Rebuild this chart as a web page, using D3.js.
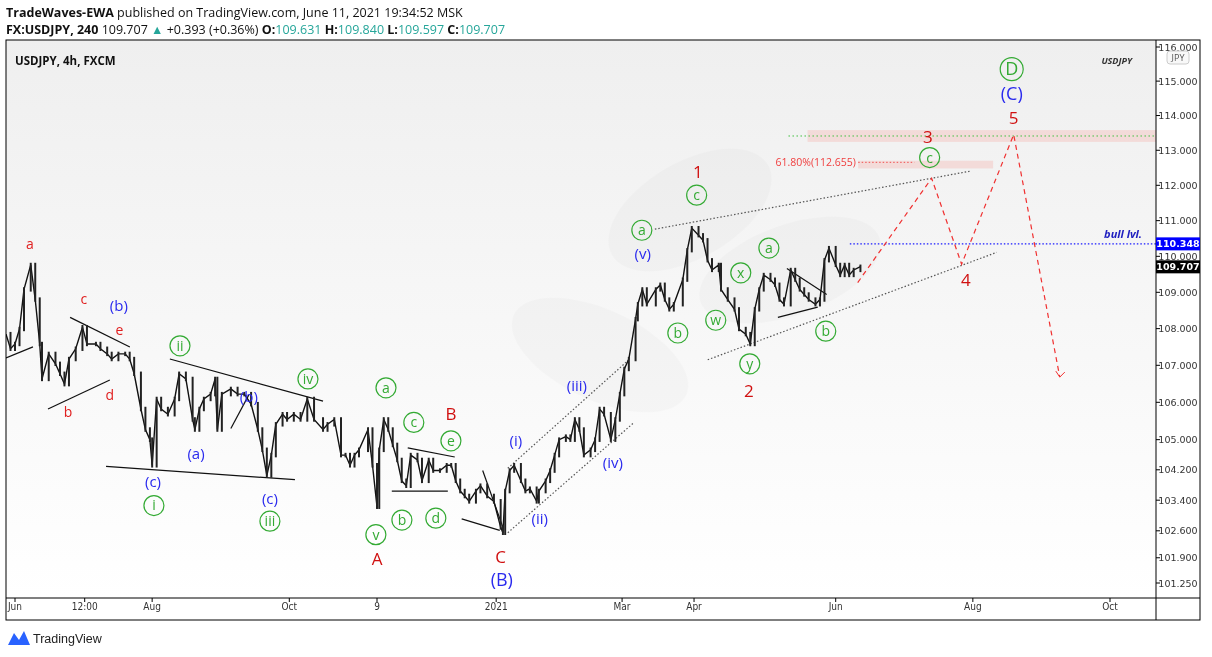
<!DOCTYPE html>
<html>
<head>
<meta charset="utf-8">
<script src="https://cdn.jsdelivr.net/npm/d3@7"></script>
<style>
body { margin: 0; background: #fff; font-family: "Open Sans", sans-serif; }
</style>
</head>
<body>
<svg id="chart" width="1212" height="657"></svg>
<script>
// price path, day offsets from 2020-06-01 and closes
var days = [-4,-2,0,2,4,7,9,11,12,15,18,20,22,24,27,30,32,36,38,41,43,46,49,51,53,56,58,60,61,63,65,68,71,73,76,79,80,82,84,87,89,90,92,96,99,102,105,108,110,112,114,116,119,121,124,127,130,133,137,139,142,145,147,149,151,153,157,159,161,162,164,166,168,170,172,174,176,179,181,184,186,189,192,194,196,198,200,202,205,207,210,213,216,217,218,220,222,225,227,229,232,233,236,238,240,242,245,247,249,251,253,256,258,260,262,265,267,269,271,273,276,277,279,281,285,287,289,291,293,297,299,301,304,306,308,310,313,314,317,320,322,325,327,329,331,333,336,338,340,342,345,347,349,351,353,356,358,360,362,365,367,369,371,373,376];
var closes = [107.85,107.45,107.58,107.99,109.08,109.76,108.80,107.58,106.63,107.31,107.04,106.77,106.49,107.17,107.45,108.04,107.58,107.58,107.45,107.31,107.17,107.31,107.31,107.17,106.77,105.82,105.27,105.00,104.32,106.09,105.82,105.68,106.09,106.77,106.63,105.54,105.27,105.82,106.09,106.22,106.63,105.27,106.22,106.36,106.22,106.22,105.95,105.27,104.73,104.05,104.59,105.41,105.68,105.54,105.68,105.54,106.09,105.54,105.27,105.41,105.54,104.59,104.59,104.32,104.59,104.73,105.27,104.32,103.23,104.73,105.54,105.27,104.86,104.46,103.91,103.78,104.59,104.46,103.91,104.46,104.18,104.18,104.32,104.32,103.91,103.64,103.51,103.37,103.64,103.78,103.51,103.37,102.69,102.55,103.64,104.18,104.32,103.91,103.64,103.70,103.37,103.64,103.91,104.18,104.59,105.00,105.08,105.00,105.54,105.27,104.59,104.73,105.00,105.82,105.68,105.00,105.54,106.22,106.90,107.17,108.26,108.67,109.08,108.67,109.08,109.21,108.80,108.53,108.67,109.35,110.17,110.79,110.59,110.45,109.89,109.62,109.76,109.08,108.80,108.53,107.99,107.85,107.58,108.53,109.08,109.48,109.35,109.21,108.80,108.67,109.62,109.35,109.08,108.94,108.80,108.67,108.80,109.89,110.23,109.76,109.48,109.76,109.48,109.62,109.71];

var priceTicks = [116, 115, 114, 113, 112, 111, 110, 109, 108, 107, 106, 105, 104.2, 103.4, 102.6, 101.9, 101.25];
var timeTicks = [["2020-06-01","Jun"],["2020-07-02","12:00"],["2020-08-01","Aug"],["2020-10-01","Oct"],["2020-11-09","9"],["2021-01-01","2021"],["2021-02-26","Mar"],["2021-03-30","Apr"],["2021-06-01","Jun"],["2021-08-01","Aug"],["2021-10-01","Oct"]];

// wave labels: [day, price, text]
var redLabels = [[6.7,110.34,"a"],[30.7,108.80,"c"],[46.5,107.95,"e"],[23.6,105.73,"b"],[42.2,106.20,"d"]];
var redBig = [[193.9,105.68,"B"],[161,101.88,"A"],[216,101.93,"C"],[303.7,112.37,"1"],[326.4,106.30,"2"],[406,113.38,"3"],[422.9,109.35,"4"],[444.2,113.92,"5"]];
var blueLabels = [[46.2,108.62,"(b)"],[80.5,104.62,"(a)"],[61.4,103.89,"(c)"],[113.4,103.45,"(c)"],[104,106.14,"(b)"],[222.8,104.97,"(i)"],[233.4,102.91,"(ii)"],[249.9,106.44,"(iii)"],[265.9,104.40,"(iv)"],[279.2,110.06,"(v)"]];
var blueBig = [[216.5,101.33,"(B)"],[443.3,114.62,"(C)"]];
var greenCircles = [[61.8,103.26,"i"],[113.4,102.85,"iii"],[73.4,107.53,"ii"],[130.3,106.63,"iv"],[165,106.39,"a"],[177.4,105.46,"c"],[193.9,104.97,"e"],[160.5,102.50,"v"],[172.1,102.88,"b"],[187.2,102.93,"d"],[278.8,110.73,"a"],[303.2,111.72,"c"],[294.8,107.88,"b"],[311.7,108.23,"w"],[322.8,109.54,"x"],[335.3,110.23,"a"],[326.8,107.04,"y"],[360.6,107.93,"b"],[406.8,112.79,"c"]];
var greenBig = [[443.3,115.35,"D"]];

// projected path
var projDays = [374.8, 407.7, 421, 444.2, 464.7];
var projPrices = [109.27, 112.2, 109.78, 113.45, 106.68];

// trend lines [d1,p1,d2,p2]
var dottedLines = [[284.6,110.76,424.6,112.40],[308.1,107.15,436.6,110.11],[219.2,102.55,274.8,105.43],[219.2,104.24,273.4,107.17]];
var solidLines = [[14.7,105.82,42.2,106.6],[24.5,108.31,51.1,107.5],[40.5,104.29,124.5,103.94],[68.9,107.17,137,106.03],[167.6,103.64,192.5,103.64],[174.7,104.78,195.6,104.54],[198.7,102.91,215.6,102.61],[208,104.18,217,102.69],[343.3,109.66,361,108.94],[339.3,108.31,357,108.59],[-4,107.2,8,107.5],[96,105.3,104,106.2]];

var bullLevel = 110.348, lastPrice = 109.707;
var fibLevel = 112.655, fibBox = [375, 435, 112.48, 112.70];
var targetBox = [352.5, 113.24, 113.58], targetLine = 113.41;

var svg = d3.select("#chart");
var L = 6, R = 1156, T = 40, B = 598;
var t0 = new Date(2020, 5, 1);
var x = d3.scaleTime().domain([t0, new Date(2021, 9, 1)]).range([15, 1110]);
var y = d3.scaleLog().domain([101.25, 116]).range([583, 47]);
var X = function (d) { return x(d3.timeHour.offset(t0, d * 24)); };

// background gradient
var grad = svg.append("defs").append("linearGradient").attr("id", "bg").attr("x1", 0).attr("y1", 0).attr("x2", 0).attr("y2", 1);
grad.append("stop").attr("offset", "0%").attr("stop-color", "#efefef");
grad.append("stop").attr("offset", "100%").attr("stop-color", "#ffffff");
svg.append("rect").attr("x", L).attr("y", T).attr("width", R - L).attr("height", B - T).attr("fill", "url(#bg)");

var clip = svg.append("clipPath").attr("id", "clip").append("rect").attr("x", L).attr("y", T).attr("width", R - L).attr("height", B - T);
var g = svg.append("g").attr("clip-path", "url(#clip)");

// watermark leaves
var wm = g.append("g").attr("fill", "#000").attr("opacity", 0.02);
wm.append("ellipse").attr("cx", 690).attr("cy", 210).attr("rx", 90).attr("ry", 48).attr("transform", "rotate(-30,690,210)");
wm.append("ellipse").attr("cx", 600).attr("cy", 355).attr("rx", 95).attr("ry", 45).attr("transform", "rotate(25,600,355)");
wm.append("ellipse").attr("cx", 790).attr("cy", 270).attr("rx", 95).attr("ry", 45).attr("transform", "rotate(-20,790,270)");

// target zones
g.append("rect").attr("x", X(targetBox[0])).attr("y", y(targetBox[2])).attr("width", R - X(targetBox[0])).attr("height", y(targetBox[1]) - y(targetBox[2])).attr("fill", "#f2d4d2").attr("opacity", 0.8);
g.append("line").attr("x1", X(344)).attr("x2", R).attr("y1", y(targetLine)).attr("y2", y(targetLine)).attr("stroke", "#3fbf3f").attr("stroke-dasharray", "1.5,2.5");
g.append("rect").attr("x", X(fibBox[0])).attr("y", y(fibBox[3])).attr("width", X(fibBox[1]) - X(fibBox[0])).attr("height", y(fibBox[2]) - y(fibBox[3])).attr("fill", "#f2d4d2").attr("opacity", 0.8);
g.append("line").attr("x1", X(375)).attr("x2", X(400)).attr("y1", y(fibLevel)).attr("y2", y(fibLevel)).attr("stroke", "#f05050").attr("stroke-dasharray", "1.5,2");
g.append("text").attr("x", X(374)).attr("y", y(fibLevel) + 4).attr("text-anchor", "end").attr("fill", "#f04040").attr("font-size", 10.5).text("61.80%(112.655)");

// trend lines
dottedLines.forEach(function (l) {
    g.append("line").attr("x1", X(l[0])).attr("y1", y(l[1])).attr("x2", X(l[2])).attr("y2", y(l[3]))
        .attr("stroke", "#555").attr("stroke-width", 1.2).attr("stroke-dasharray", "1.5,2");
});
solidLines.forEach(function (l) {
    g.append("line").attr("x1", X(l[0])).attr("y1", y(l[1])).attr("x2", X(l[2])).attr("y2", y(l[3]))
        .attr("stroke", "#111").attr("stroke-width", 1.2);
});

// bull level
g.append("line").attr("x1", X(371.3)).attr("x2", R).attr("y1", y(bullLevel)).attr("y2", y(bullLevel)).attr("stroke", "#1a1aff").attr("stroke-dasharray", "1.5,2").attr("stroke-width", 1.3);
g.append("text").attr("x", 1142).attr("y", y(bullLevel) - 6).attr("text-anchor", "end").attr("fill", "#2020c0").attr("font-size", 11).attr("font-weight", "bold").attr("font-style", "italic").text("bull lvl.");

// price path as bars
var pts = days.map(function (d, i) { return [X(d), y(closes[i])]; });
g.append("path").attr("d", d3.line()(pts)).attr("fill", "none").attr("stroke", "#111").attr("stroke-width", 1.4);
g.selectAll(".bar").data(days.slice(1)).enter().append("line")
    .attr("x1", function (d) { return X(d); }).attr("x2", function (d) { return X(d); })
    .attr("y1", function (d, i) { return y(Math.max(closes[i], closes[i + 1]) + 0.06); })
    .attr("y2", function (d, i) { return y(Math.min(closes[i], closes[i + 1]) - 0.06); })
    .attr("stroke", "#222").attr("stroke-width", 2);

// projection
g.append("path").attr("d", d3.line()(projDays.map(function (d, i) { return [X(d), y(projPrices[i])]; })))
    .attr("fill", "none").attr("stroke", "#f03030").attr("stroke-width", 1.2).attr("stroke-dasharray", "5,4");
var ex = X(projDays[4]), ey = y(projPrices[4]);
g.append("path").attr("d", "M" + (ex - 4) + "," + (ey - 6) + "L" + ex + "," + ey + "L" + (ex + 5) + "," + (ey - 5)).attr("fill", "none").attr("stroke", "#f03030");

// labels
function labels(arr, color, size, weight) {
    arr.forEach(function (a) {
        g.append("text").attr("x", X(a[0])).attr("y", y(a[1])).attr("dy", "0.35em").attr("text-anchor", "middle")
            .attr("fill", color).attr("font-size", size).attr("font-weight", weight).text(a[2]);
    });
}
function circles(arr, r, size) {
    arr.forEach(function (a) {
        g.append("circle").attr("cx", X(a[0])).attr("cy", y(a[1])).attr("r", r).attr("fill", "none").attr("stroke", "#33aa33").attr("stroke-width", 1.2);
        g.append("text").attr("x", X(a[0])).attr("y", y(a[1])).attr("dy", "0.35em").attr("text-anchor", "middle")
            .attr("fill", "#33aa33").attr("font-size", size).text(a[2]);
    });
}
labels(redLabels, "#e02020", 14, "normal");
labels(redBig, "#d01010", 17, "normal");
labels(blueLabels, "#2a2aee", 15, "normal");
labels(blueBig, "#2a2aee", 18, "normal");
circles(greenCircles, 10, 14);
circles(greenBig, 11.5, 18);

// frame
svg.append("rect").attr("x", L).attr("y", T).attr("width", 1194).attr("height", 580).attr("fill", "none").attr("stroke", "#000");
svg.append("line").attr("x1", R).attr("x2", R).attr("y1", T).attr("y2", 620).attr("stroke", "#000");
svg.append("line").attr("x1", L).attr("x2", 1200).attr("y1", B).attr("y2", B).attr("stroke", "#000");

// price axis
priceTicks.forEach(function (p) {
    svg.append("line").attr("x1", R).attr("x2", R + 4).attr("y1", y(p)).attr("y2", y(p)).attr("stroke", "#000");
    svg.append("text").attr("x", R + 22).attr("y", y(p) + 3.5).attr("text-anchor", "middle").attr("font-size", 9.5)
        .attr("font-family", "'DejaVu Sans', sans-serif").attr("fill", "#333").text(p.toFixed(3));
});
svg.append("rect").attr("x", R + 11).attr("y", 51).attr("width", 22).attr("height", 13).attr("rx", 3).attr("fill", "#f8f8f8").attr("stroke", "#ccc");
svg.append("text").attr("x", R + 22).attr("y", 61).attr("text-anchor", "middle").attr("font-size", 9).attr("fill", "#555").text("JPY");
[[bullLevel, "#0000ff"], [lastPrice, "#000"]].forEach(function (t) {
    svg.append("rect").attr("x", R).attr("y", y(t[0]) - 6.5).attr("width", 44).attr("height", 13).attr("fill", t[1]);
    svg.append("text").attr("x", R + 22).attr("y", y(t[0]) + 3.5).attr("text-anchor", "middle").attr("font-size", 9.5)
        .attr("font-family", "'DejaVu Sans', sans-serif").attr("font-weight", "bold").attr("fill", "#fff").text(t[0].toFixed(3));
});

// time axis
timeTicks.forEach(function (t) {
    var tx = x(d3.timeParse("%Y-%m-%d")(t[0]));
    svg.append("line").attr("x1", tx).attr("x2", tx).attr("y1", B).attr("y2", B + 4).attr("stroke", "#000");
    svg.append("text").attr("x", tx).attr("y", B + 12).attr("text-anchor", "middle").attr("font-size", 10)
        .attr("font-family", "'Liberation Sans Narrow', 'DejaVu Sans Condensed', sans-serif").attr("fill", "#333").text(t[1]);
});

// headers
var h = svg.append("text").attr("x", 6).attr("y", 17).attr("font-size", 12.5).attr("fill", "#111");
h.append("tspan").attr("font-weight", "bold").text("TradeWaves-EWA");
h.append("tspan").text(" published on TradingView.com, June 11, 2021 19:34:52 MSK");
var h2 = svg.append("text").attr("x", 6).attr("y", 34).attr("font-size", 12.5).attr("fill", "#111");
h2.append("tspan").attr("font-weight", "bold").text("FX:USDJPY, 240");
h2.append("tspan").text(" 109.707 ");
h2.append("tspan").attr("fill", "#26a69a").text("\u25B2");
h2.append("tspan").text(" +0.393 (+0.36%) ");
[["O:", "109.631"], ["H:", "109.840"], ["L:", "109.597"], ["C:", "109.707"]].forEach(function (o) {
    h2.append("tspan").attr("font-weight", "bold").text(o[0]);
    h2.append("tspan").attr("fill", "#26a69a").text(o[1] + " ");
});
svg.append("text").attr("x", 15).attr("y", 65).attr("font-size", 11.5).attr("font-weight", "bold").attr("fill", "#111").text("USDJPY, 4h, FXCM");
svg.append("text").attr("x", 1132).attr("y", 64).attr("text-anchor", "end").attr("font-size", 9).attr("font-weight", "bold").attr("font-style", "italic").attr("fill", "#333").text("USDJPY");

// footer logo
svg.append("path").attr("d", "M8,645 L14,633 L19,640 L24,631 L30,645 Z").attr("fill", "#2962ff");
svg.append("text").attr("x", 33).attr("y", 643).attr("font-size", 12.5).attr("font-family", "'Liberation Sans Narrow', sans-serif").attr("fill", "#222").text("TradingView");
</script>
</body>
</html>
